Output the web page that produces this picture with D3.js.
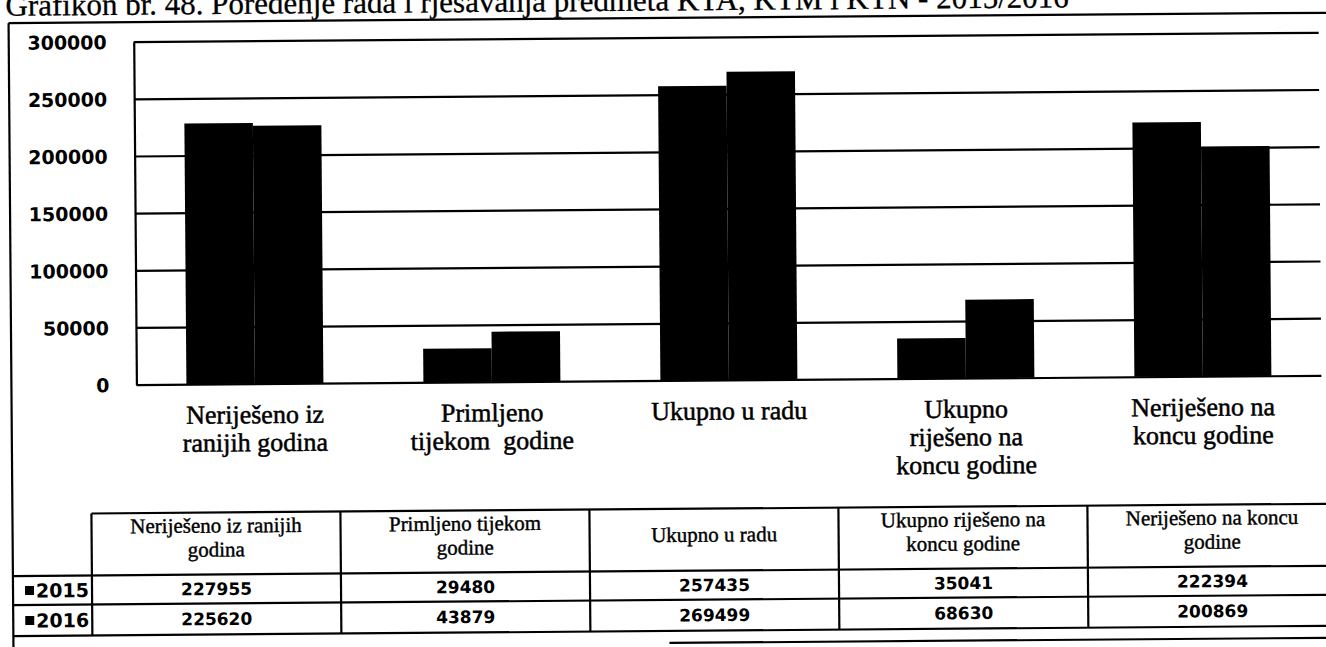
<!DOCTYPE html>
<html>
<head>
<meta charset="utf-8">
<script src="https://cdn.jsdelivr.net/npm/d3@7"></script>
<style>
  html, body { margin: 0; padding: 0; background: #fff; overflow: hidden; }
  svg { display: block; }
</style>
</head>
<body>
<svg id="chart" width="1326" height="647"></svg>
<script>
// ---- data ----
const titleText = "Grafikon br. 48. Poređenje rada i rješavanja predmeta KTA, KTM i KTN - 2015/2016";
const categories = [
  "Neriješeno iz ranijih godina",
  "Primljeno tijekom godine",
  "Ukupno u radu",
  "Ukupno riješeno na koncu godine",
  "Neriješeno na koncu godine"
];
const axisLabelLines = [
  ["Neriješeno iz", "ranijih godina"],
  ["Primljeno", "tijekom  godine"],
  ["Ukupno u radu"],
  ["Ukupno", "riješeno na", "koncu godine"],
  ["Neriješeno na", "koncu godine"]
];
const tableHeaderLines = [
  ["Neriješeno iz ranijih", "godina"],
  ["Primljeno tijekom", "godine"],
  ["Ukupno u radu"],
  ["Ukupno riješeno na", "koncu godine"],
  ["Neriješeno na koncu", "godine"]
];
const seriesNames = ["2015", "2016"];
const values2015 = [227955, 29480, 257435, 35041, 222394];
const values2016 = [225620, 43879, 269499, 68630, 200869];
const yTicks = [0, 50000, 100000, 150000, 200000, 250000, 300000];

const series = [
  { name: seriesNames[0], values: values2015 },
  { name: seriesNames[1], values: values2016 }
];

// ---- layout ----
const W = 1326, H = 647;
const plot = { left: 136, right: 1321, top: 37.5, bottom: 380.5 };
const table = { left: 90, right: 1335, top: 509, head: 571, mid: 600, bottom: 631 };
const frame = { left: 11, top: 18, right: 1345, bottom: 643 };
const ink = "#000";
const serif = "'Liberation Serif', 'Times New Roman', serif";
const sans = "'DejaVu Sans', sans-serif";

const svg = d3.select("#chart");
// the printed page sits slightly tilted
const root = svg.append("g").attr("transform", "rotate(-0.45 663 330)");

// title (runs off the top edge of the page)
root.append("text")
  .attr("x", 8).attr("y", 10.5)
  .attr("font-family", serif)
  .attr("font-size", 31)
  .attr("fill", ink)
  .attr("stroke", ink).attr("stroke-width", 0.3)
  .text(titleText);

// outer frame
const frameG = root.append("g").attr("stroke", ink).attr("stroke-width", 2.2).attr("fill", "none");
frameG.append("line").attr("x1", frame.left).attr("x2", frame.right).attr("y1", frame.top).attr("y2", frame.top);
frameG.append("line").attr("x1", frame.left).attr("x2", frame.left).attr("y1", frame.top).attr("y2", H + 20);
frameG.append("line").attr("x1", 667).attr("x2", frame.right).attr("y1", frame.bottom).attr("y2", frame.bottom);

// ---- scales ----
const x = d3.scaleBand().domain(categories).range([plot.left, plot.right])
  .paddingInner(0.422).paddingOuter(0.211);
const xs = d3.scaleBand().domain(seriesNames).range([0, x.bandwidth()]);
const y = d3.scaleLinear().domain([0, 300000]).range([plot.bottom, plot.top]);

// y axis with gridlines
const yAxis = d3.axisLeft(y)
  .tickValues(yTicks)
  .tickFormat(d3.format("d"))
  .tickSizeInner(-(plot.right - plot.left))
  .tickSizeOuter(0)
  .tickPadding(27);

const yG = root.append("g")
  .attr("transform", `translate(${plot.left},0)`)
  .call(yAxis);
yG.selectAll("path.domain").attr("stroke", ink).attr("stroke-width", 2.2);
yG.selectAll(".tick line").attr("stroke", ink).attr("stroke-width", 2.2);
yG.selectAll(".tick text")
  .attr("fill", ink)
  .attr("font-family", sans)
  .attr("font-weight", "bold")
  .attr("font-size", 19)
  .attr("dy", "0.36em");

// bars
const groups = root.append("g").selectAll("g")
  .data(series)
  .join("g")
  .attr("fill", ink);
groups.selectAll("rect")
  .data(s => s.values.map((v, i) => ({ name: s.name, cat: categories[i], value: v })))
  .join("rect")
  .attr("x", d => x(d.cat) + xs(d.name))
  .attr("width", xs.bandwidth())
  .attr("y", d => y(d.value))
  .attr("height", d => y(0) - y(d.value));

// category labels
const catG = root.append("g")
  .attr("font-family", serif)
  .attr("font-size", 26)
  .attr("fill", ink)
  .attr("stroke", ink).attr("stroke-width", 0.5)
  .attr("text-anchor", "middle");
categories.forEach((c, i) => {
  const cx = x(c) + x.bandwidth() / 2;
  const t = catG.append("text")
    .attr("x", cx)
    .attr("y", 420)
    .attr("xml:space", "preserve");
  axisLabelLines[i].forEach((ln, j) => {
    t.append("tspan")
      .attr("x", cx)
      .attr("dy", j === 0 ? 0 : 28)
      .text(ln);
  });
});

// ---- data table ----
const tx = d3.scaleBand().domain(categories).range([table.left, table.right]);
const tG = root.append("g");
const lines = tG.append("g").attr("stroke", ink).attr("stroke-width", 2.2);
lines.append("line").attr("x1", table.left).attr("x2", table.right).attr("y1", table.top).attr("y2", table.top);
[table.head, table.mid, table.bottom].forEach(yy => {
  lines.append("line").attr("x1", frame.left).attr("x2", table.right).attr("y1", yy).attr("y2", yy);
});
lines.append("line").attr("x1", table.left).attr("x2", table.left).attr("y1", table.top).attr("y2", table.bottom);
categories.slice(1).forEach(c => {
  lines.append("line").attr("x1", tx(c)).attr("x2", tx(c)).attr("y1", table.top).attr("y2", table.bottom);
});

// header cells
const headG = tG.append("g")
  .attr("font-family", serif)
  .attr("font-size", 21)
  .attr("fill", ink)
  .attr("stroke", ink).attr("stroke-width", 0.4)
  .attr("text-anchor", "middle");
categories.forEach((c, i) => {
  const cx = tx(c) + tx.bandwidth() / 2;
  const ls = tableHeaderLines[i];
  const t = headG.append("text").attr("x", cx).attr("y", ls.length === 1 ? 542 : 529);
  ls.forEach((ln, j) => {
    t.append("tspan").attr("x", cx).attr("dy", j === 0 ? 0 : 24).text(ln);
  });
});

// value rows with legend keys
const rowMid = [(table.head + table.mid) / 2, (table.mid + table.bottom) / 2];
series.forEach((s, r) => {
  const cy = rowMid[r];
  tG.append("rect").attr("x", 23).attr("y", cy - 4.5).attr("width", 9).attr("height", 9).attr("fill", ink);
  tG.append("text")
    .attr("x", 34).attr("y", cy + 7)
    .attr("font-family", sans)
    .attr("font-weight", "bold")
    .attr("font-size", 19)
    .attr("fill", ink)
    .text(s.name);
  tG.append("g").selectAll("text")
    .data(s.values)
    .join("text")
    .attr("x", (d, i) => tx(categories[i]) + tx.bandwidth() / 2)
    .attr("y", cy + 6)
    .attr("text-anchor", "middle")
    .attr("font-family", sans)
    .attr("font-weight", "bold")
    .attr("font-size", 17)
    .attr("fill", ink)
    .text(d => d);
});
</script>
</body>
</html>
